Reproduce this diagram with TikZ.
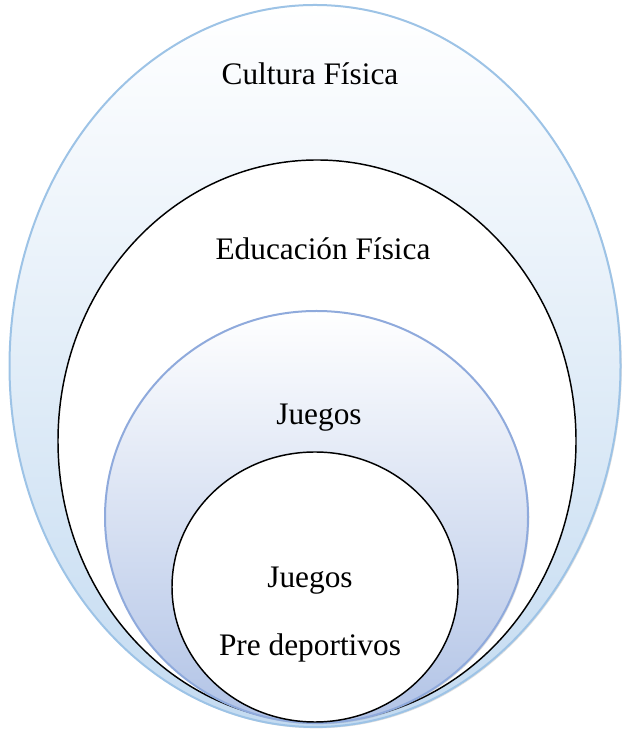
\documentclass[tikz,border=0pt]{standalone}
\usepackage{fontspec}
\setmainfont{Liberation Serif}
\usetikzlibrary{shadows}
\definecolor{skyline}{HTML}{9DC3E6}
\definecolor{skyfill}{HTML}{C4DBF1}
\definecolor{bluline}{HTML}{8FAADC}
\definecolor{blufill}{HTML}{B1C3E6}
\begin{document}
\begin{tikzpicture}[x=0.75pt,y=0.75pt,
    label/.style={anchor=base,font=\fontsize{23.5}{28}\selectfont}]
        \useasboundingbox (0,0) rectangle (621,730);

        \draw[skyline, line width=1.5pt, top color=white, bottom color=skyfill,
              drop shadow={opacity=0.25,shadow xshift=1pt,shadow yshift=-1pt}]
            (315,364) ellipse [x radius=305.5, y radius=361];
        \draw[black, line width=1.1pt, fill=white] (317,289) ellipse [x radius=259, y radius=281];
        \draw[bluline, line width=1.5pt, top color=white, bottom color=blufill,
              drop shadow={opacity=0.25,shadow xshift=1pt,shadow yshift=-1pt}]
            (316.5,213) ellipse [x radius=211.5, y radius=206];
        \draw[black, line width=1.1pt, fill=white] (315,143) ellipse [x radius=143, y radius=135];

        \node[label] (cultura) at (310,645) {Cultura Física};
        \node[label] (educacion) at (323,470) {Educación Física};
        \node[label] (juegos) at (319,305) {Juegos};
        \node[label] (juegospre) at (310,142) {Juegos};
        \node[label] (predep) at (310,74) {Pre deportivos};
    \end{tikzpicture}
\end{document}
